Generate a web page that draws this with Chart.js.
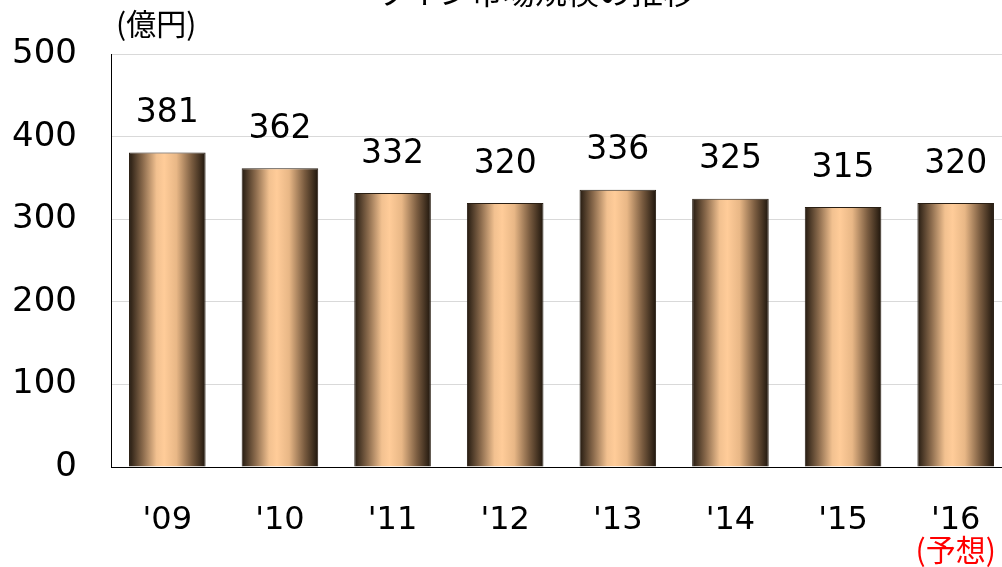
<!DOCTYPE html>
<html>
<head>
<meta charset="utf-8">
<script src="https://cdn.jsdelivr.net/npm/chart.js@4"></script>
<style>
  html, body { margin: 0; padding: 0; background: #fff; overflow: hidden; }
  #wrap { width: 1002px; height: 567px; overflow: hidden; }
</style>
</head>
<body>
<div id="wrap"><canvas id="salesChart" width="1012" height="567"></canvas></div>
<script>
const years = ["'09", "'10", "'11", "'12", "'13", "'14", "'15", "'16"];
const sales = [381, 362, 332, 320, 336, 325, 315, 320];
const yTicks = [0, 100, 200, 300, 400, 500];
const titleText = 'ワイン市場規模の推移';
const unitText = '(億円)';
const forecastText = '(予想)';

const numFont = '"DejaVu Sans", Verdana, sans-serif';
const jpFont = '"Noto Sans CJK JP", sans-serif';
const barPct = 0.68;

function barGradient(ctx) {
  const chart = ctx.chart;
  const x = chart.scales.x;
  if (!chart.chartArea || !x || ctx.dataIndex === undefined) return '#f5c28f';
  const c = x.getPixelForValue(ctx.dataIndex);
  const hw = (x.width / years.length) * barPct / 2;
  const g = chart.ctx.createLinearGradient(c - hw, 0, c + hw, 0);
  g.addColorStop(0, '#241a10');
  g.addColorStop(0.18, '#8a6a4c');
  g.addColorStop(0.36, '#f2c190');
  g.addColorStop(0.46, '#ffcc99');
  g.addColorStop(0.62, '#e8b786');
  g.addColorStop(0.82, '#7a5c40');
  g.addColorStop(1, '#1e150c');
  return g;
}

// extra texts: title (cut at top), unit, forecast note, value labels
const textPlugin = {
  id: 'texts',
  afterDatasetsDraw(chart) {
    const ctx = chart.ctx;
    ctx.save();
    ctx.fillStyle = '#000';
    ctx.textAlign = 'center';
    ctx.textBaseline = 'middle';
    ctx.font = '33px ' + numFont;
    const meta = chart.getDatasetMeta(0);
    meta.data.forEach((bar, i) => {
      ctx.fillText(String(sales[i]), bar.x, bar.y - 39);
    });
    ctx.font = '32px ' + jpFont;
    ctx.fillText(titleText, 535, -8);
    ctx.font = '30px ' + jpFont;
    ctx.textAlign = 'left';
    ctx.fillText(unitText, 116, 24);
    ctx.fillStyle = '#ff0000';
    ctx.textAlign = 'center';
    ctx.font = '30px ' + jpFont;
    const last = chart.scales.x.getPixelForValue(years.length - 1);
    ctx.fillText(forecastText, last, 550);
    ctx.restore();
  }
};

new Chart(document.getElementById('salesChart'), {
  type: 'bar',
  data: {
    labels: years,
    datasets: [{
      data: sales,
      backgroundColor: barGradient,
      borderColor: '#2a1f14',
      borderWidth: 1,
      categoryPercentage: 1,
      barPercentage: barPct
    }]
  },
  options: {
    responsive: false,
    animation: false,
    // y tick labels add ~22px on top of this
    layout: { padding: { top: 27.6, right: 0, left: 0, bottom: 0 } },
    plugins: { legend: { display: false }, tooltip: { enabled: false } },
    scales: {
      x: {
        grid: { display: false },
        border: { color: '#000', width: 1 },
        ticks: { color: '#000', font: { family: numFont, size: 32 }, padding: 26 },
        afterFit(s) { s.height = 100; }
      },
      y: {
        min: 0,
        max: 500,
        afterBuildTicks(s) { s.ticks = yTicks.map(v => ({ value: v })); },
        grid: { color: '#d9d9d9', drawTicks: false },
        border: { color: '#000', width: 1 },
        ticks: { color: '#000', font: { family: numFont, size: 34 }, padding: 34 },
        afterFit(s) { s.width = 111; }
      }
    }
  },
  plugins: [textPlugin]
});
</script>
</body>
</html>
